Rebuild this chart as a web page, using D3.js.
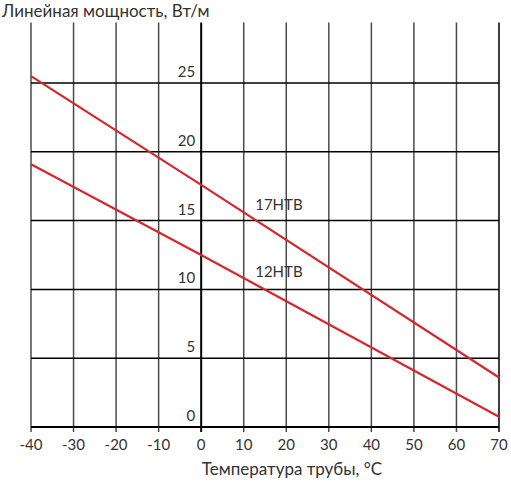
<!DOCTYPE html>
<html><head><meta charset="utf-8">
<script src="https://cdn.jsdelivr.net/npm/d3@7"></script>
<style>
body{margin:0;background:#fff;}
text{font-family:Lato,"Open Sans",sans-serif;fill:#333;}
</style></head>
<body>
<svg id="c" width="511" height="482"></svg>
<script>
const xTicks = [-40,-30,-20,-10,0,10,20,30,40,50,60,70];
const yTicks = [0,5,10,15,20,25];
const seriesNames = ["17HTB","12HTB"];
const temps = [-40,0,70];
const power17 = [25.5,17.6,3.6];
const power12 = [19.1,12.5,0.75];
const labelPos = [[12.7,15.75],[12.7,10.9]];

const svg = d3.select("#c");
const x = d3.scaleLinear().domain([-40,70]).range([31,499]);
const y = d3.scaleLinear().domain([0,25]).range([427,83]);
const yTop = 29.4;

// vertical grid
svg.append("g").selectAll("line").data(xTicks).join("line")
  .attr("x1",d=>x(d)).attr("x2",d=>x(d))
  .attr("y1",y(yTop)).attr("y2",y(0)+5)
  .attr("stroke",d=>d===0||d===70?"#000":"#4a4a4a")
  .attr("stroke-width",d=>d===0?2:1.5);
// horizontal grid
svg.append("g").selectAll("line").data(yTicks).join("line")
  .attr("x1",x(-40)).attr("x2",x(70))
  .attr("y1",d=>y(d)).attr("y2",d=>y(d))
  .attr("stroke","#000").attr("stroke-width",d=>d===0?2:1.5);

// y labels
svg.append("g").selectAll("text").data(yTicks).join("text")
  .attr("x",x(0)-6).attr("y",d=>y(d)-6)
  .attr("text-anchor","end").attr("font-size",15).text(d=>d);
// x labels
svg.append("g").selectAll("text").data(xTicks).join("text")
  .attr("x",d=>x(d)).attr("y",450)
  .attr("text-anchor","middle").attr("font-size",15).text(d=>d);

// lines
const line = d3.line().x(d=>x(d[0])).y(d=>y(d[1]));
[power17,power12].forEach((vals,i)=>{
  svg.append("path").datum(temps.map((t,j)=>[t,vals[j]]))
    .attr("d",line).attr("fill","none")
    .attr("stroke","#d7262c").attr("stroke-width",2.2);
  svg.append("text").attr("x",x(labelPos[i][0])).attr("y",y(labelPos[i][1]))
    .attr("font-size",15).text(seriesNames[i]);
});

svg.append("text").attr("x",2).attr("y",17).attr("font-size",17)
  .text("Линейная мощность, Вт/м");
svg.append("text").attr("x",292).attr("y",475).attr("text-anchor","middle")
  .attr("font-size",17).text("Температура трубы, °C");
</script>
</body></html>
